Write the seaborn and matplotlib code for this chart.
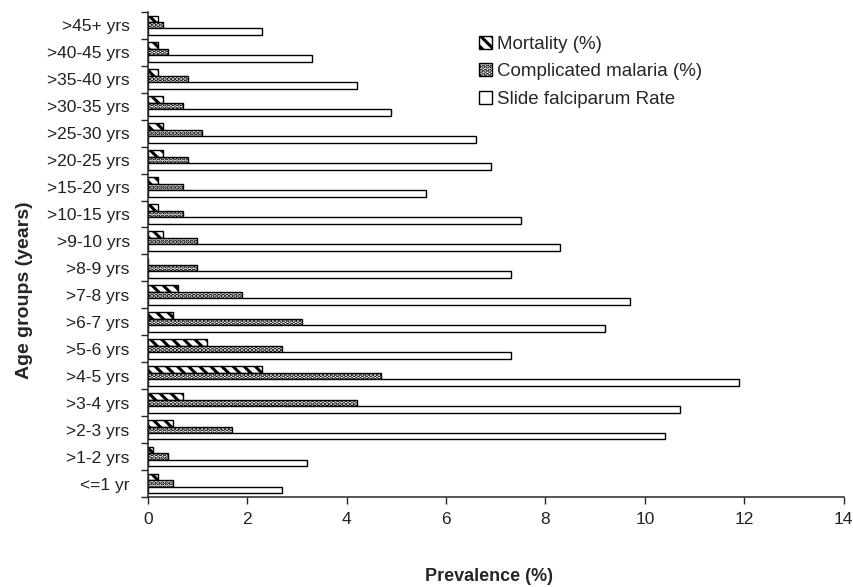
import pandas as pd
import matplotlib
matplotlib.use('Agg')
import matplotlib.pyplot as plt
import seaborn as sns
from matplotlib.patches import Patch
from matplotlib.ticker import FixedLocator

# values (top group first)
age_groups = ['>45+ yrs', '>40-45 yrs', '>35-40 yrs', '>30-35 yrs', '>25-30 yrs',
              '>20-25 yrs', '>15-20 yrs', '>10-15 yrs', '>9-10 yrs', '>8-9 yrs',
              '>7-8 yrs', '>6-7 yrs', '>5-6 yrs', '>4-5 yrs', '>3-4 yrs',
              '>2-3 yrs', '>1-2 yrs', '<=1 yr']
mortality = [0.2, 0.2, 0.2, 0.3, 0.3, 0.3, 0.2, 0.2, 0.3, 0.0,
             0.6, 0.5, 1.2, 2.3, 0.7, 0.5, 0.1, 0.2]
complicated = [0.3, 0.4, 0.8, 0.7, 1.1, 0.8, 0.7, 0.7, 1.0, 1.0,
               1.9, 3.1, 2.7, 4.7, 4.2, 1.7, 0.4, 0.5]
slide_rate = [2.3, 3.3, 4.2, 4.9, 6.6, 6.9, 5.6, 7.5, 8.3, 7.3,
              9.7, 9.2, 7.3, 11.9, 10.7, 10.4, 3.2, 2.7]
series = ['Mortality (%)', 'Complicated malaria (%)', 'Slide falciparum Rate']

df = pd.DataFrame({'age': age_groups * 3,
                   'value': mortality + complicated + slide_rate,
                   'series': [series[0]] * 18 + [series[1]] * 18 + [series[2]] * 18})

sns.set_style('ticks')
plt.rcParams['font.family'] = ['Liberation Sans', 'DejaVu Sans']
plt.rcParams['hatch.linewidth'] = 2.2

fig, ax = plt.subplots(figsize=(8.54, 5.87), dpi=100)
sns.barplot(data=df, x='value', y='age', hue='series', order=age_groups,
            hue_order=series, orient='h', width=0.72, ax=ax,
            palette=['white', 'white', 'white'], edgecolor='black',
            linewidth=1.0, legend=False)

hatches = ['\\\\\\', '....', '']
for cont, h in zip(ax.containers, hatches):
    for bar in cont:
        bar.set_hatch(h)

ax.set_xlim(0, 14)
ax.set_xticks(range(0, 15, 2))
ax.set_ylim(len(age_groups) - 0.5, -0.5)
ax.yaxis.set_minor_locator(FixedLocator([i - 0.5 for i in range(len(age_groups) + 1)]))
ax.tick_params(axis='y', which='major', length=0, labelsize=12.5, pad=13)
ax.tick_params(axis='y', which='minor', length=5, width=1)
ax.tick_params(axis='x', length=5, width=1, labelsize=12.5, pad=6)
for lab in ax.get_yticklabels() + ax.get_xticklabels():
    lab.set_color('#222222')

ax.set_xlabel('Prevalence (%)', fontsize=13, fontweight='bold')
ax.set_ylabel('Age groups (years)', fontsize=14, fontweight='bold')
ax.xaxis.set_label_coords(0.49, -0.145)
ax.yaxis.set_label_coords(-0.165, 0.427)
sns.despine(ax=ax)
for sp in ['left', 'bottom']:
    ax.spines[sp].set_linewidth(1.1)

handles = [Patch(facecolor='white', edgecolor='black', hatch=h) for h in hatches]
ax.legend(handles, series, loc='upper left', bbox_to_anchor=(0.452, 0.985),
          frameon=False, fontsize=13.5, handlelength=0.7, handleheight=0.7,
          handletextpad=0.25, labelspacing=0.55)

fig.subplots_adjust(left=0.173, right=0.988, top=0.98, bottom=0.153)
fig.savefig('out.png', dpi=100)
